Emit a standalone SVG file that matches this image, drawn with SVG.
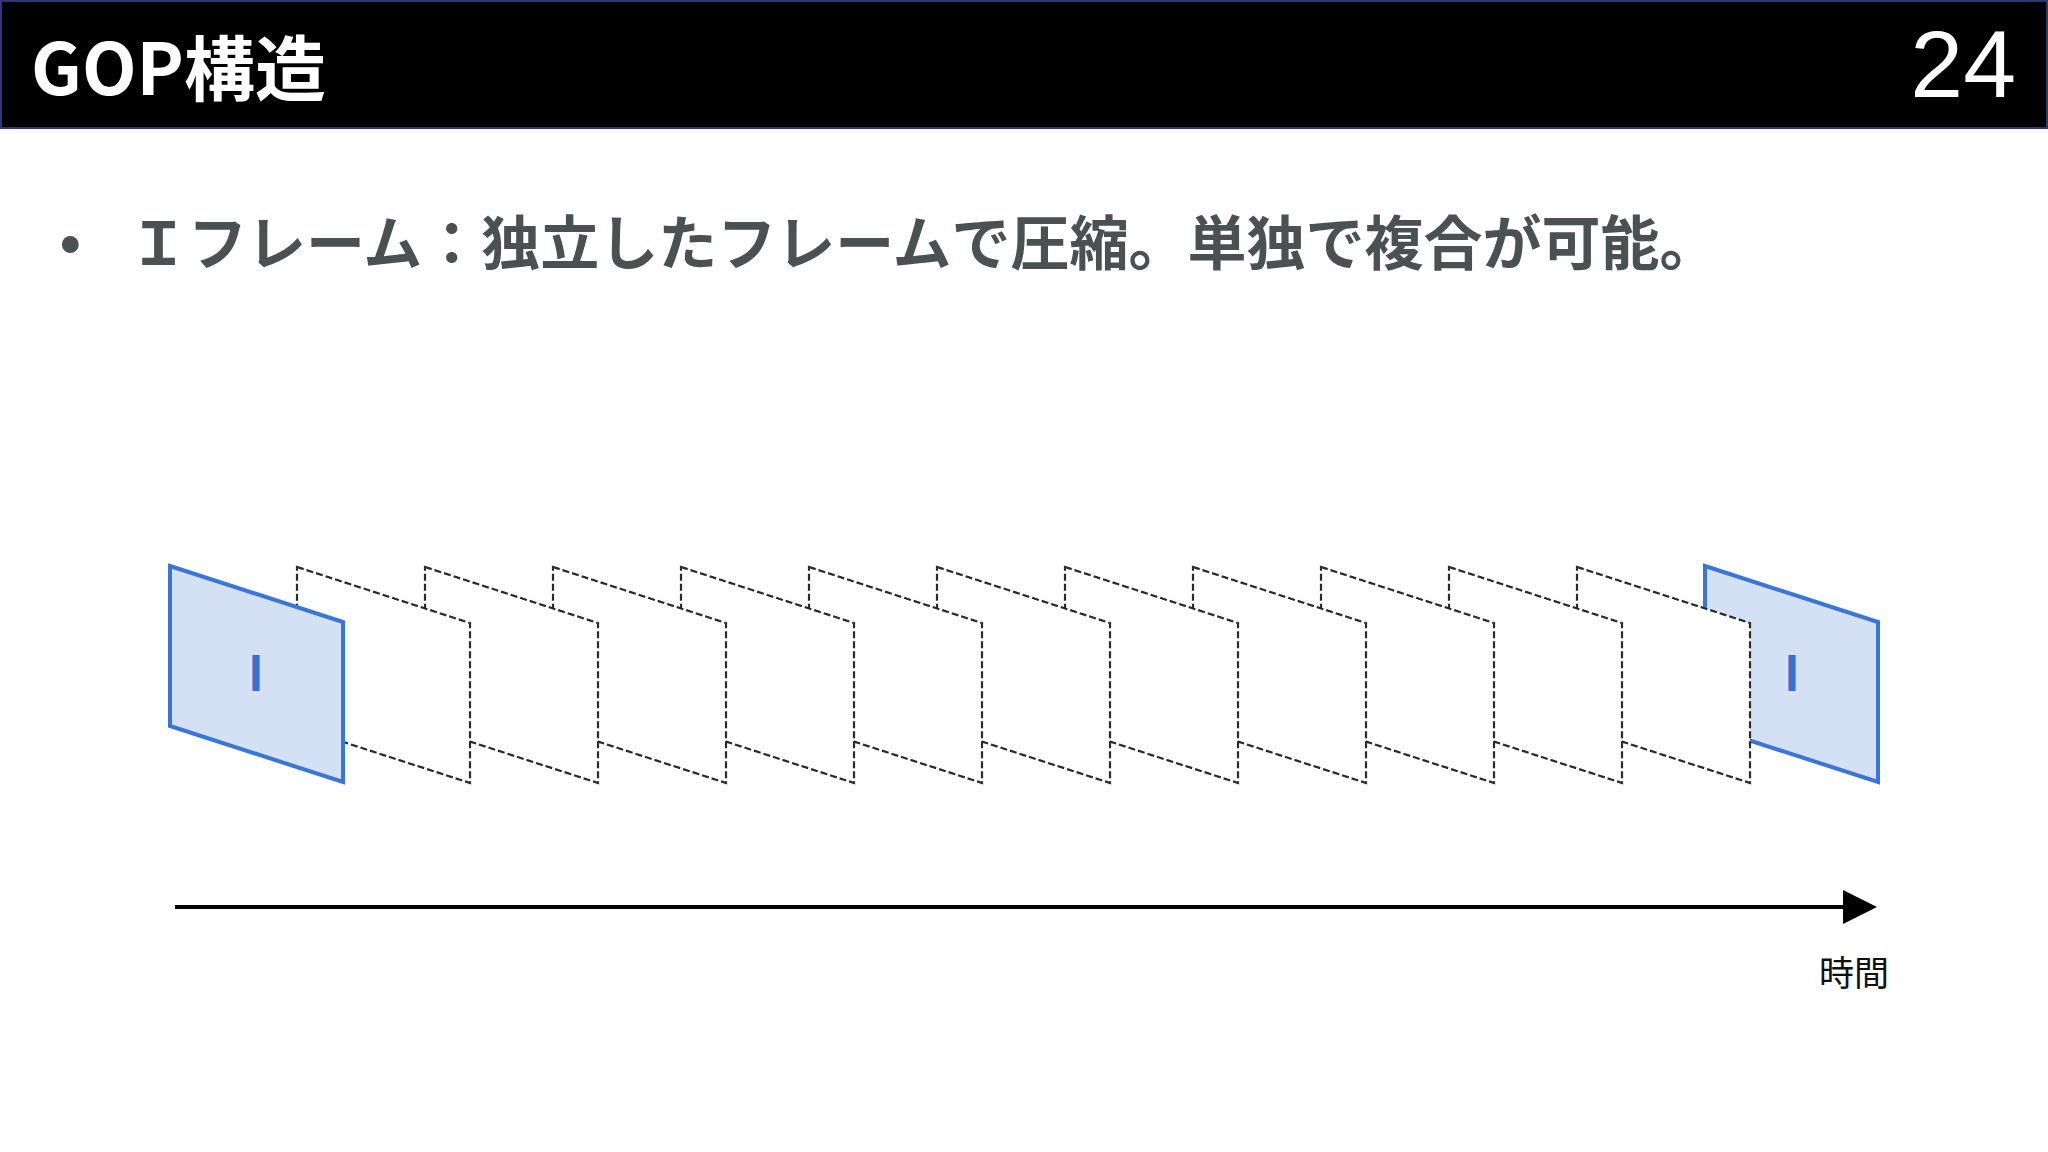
<svg xmlns="http://www.w3.org/2000/svg" width="2048" height="1152" viewBox="0 0 2048 1152">
  <style>
    .title { font-family: "Noto Sans CJK JP", "Noto Sans", sans-serif; font-weight: 700; font-size: 71px; fill: #ffffff; }
    .pnum { font-family: "Liberation Sans", Arial, sans-serif; font-size: 95px; fill: #ffffff; }
    .body { font-family: "Noto Sans CJK JP", "Noto Sans", sans-serif; font-weight: 700; font-size: 59px; fill: #4b5050; }
    .frame-i { fill: #d4e1f5; stroke: #3a76d6; stroke-width: 4; stroke-linejoin: miter; }
    .frame-d { fill: #ffffff; stroke: #2a2a2a; stroke-width: 2.2; stroke-dasharray: 7 3; }
    .ilabel { font-family: "Noto Sans CJK JP", "Noto Sans", sans-serif; font-weight: 700; font-size: 48px; fill: #3a6fd0; text-anchor: middle; }
    .axis { font-family: "Noto Sans CJK JP", "Noto Sans", sans-serif; font-size: 35px; fill: #111111; }
  </style>
  <defs>
    <polygon id="fr" points="0,0 173,56 173,216 0,160"/>
    <marker id="arr" markerWidth="34" markerHeight="34" refX="0" refY="17" orient="auto" markerUnits="userSpaceOnUse">
      <polygon points="0,0 34,17 0,34" fill="#000000"/>
    </marker>
  </defs>
  <rect width="2048" height="1152" fill="#ffffff"/>
  <g id="header">
    <rect x="1" y="1" width="2046" height="127" fill="#000000" stroke="#2e3878" stroke-width="2"/>
    <text class="title" x="31" y="95">GOP構造</text>
    <text class="pnum" x="2016" y="97" text-anchor="end">24</text>
  </g>
  <g id="bullet">
    <text class="body" x="60" y="264" style="font-family: 'Liberation Sans', sans-serif;">•</text>
    <text class="body" x="129" y="265">Ｉフレーム：独立したフレームで圧縮。単独で複合が可能。</text>
  </g>
  <g id="frames">
    <g id="frame-i-end">
      <use href="#fr" x="1705" y="566" class="frame-i"/>
      <text class="ilabel" x="1792" y="691">I</text>
    </g>
    <g id="frame-d11"><use href="#fr" x="1577" y="567" class="frame-d"/></g>
    <g id="frame-d10"><use href="#fr" x="1449" y="567" class="frame-d"/></g>
    <g id="frame-d9"><use href="#fr" x="1321" y="567" class="frame-d"/></g>
    <g id="frame-d8"><use href="#fr" x="1193" y="567" class="frame-d"/></g>
    <g id="frame-d7"><use href="#fr" x="1065" y="567" class="frame-d"/></g>
    <g id="frame-d6"><use href="#fr" x="937" y="567" class="frame-d"/></g>
    <g id="frame-d5"><use href="#fr" x="809" y="567" class="frame-d"/></g>
    <g id="frame-d4"><use href="#fr" x="681" y="567" class="frame-d"/></g>
    <g id="frame-d3"><use href="#fr" x="553" y="567" class="frame-d"/></g>
    <g id="frame-d2"><use href="#fr" x="425" y="567" class="frame-d"/></g>
    <g id="frame-d1"><use href="#fr" x="297" y="567" class="frame-d"/></g>
    <g id="frame-i-start">
      <use href="#fr" x="170" y="566" class="frame-i"/>
      <text class="ilabel" x="256" y="691">I</text>
    </g>
  </g>
  <g id="connectors">
    <line x1="175" y1="907" x2="1843" y2="907" stroke="#000000" stroke-width="4" marker-end="url(#arr)"/>
  </g>
  <g id="time-label">
    <text class="axis" x="1819" y="986">時間</text>
  </g>
</svg>
